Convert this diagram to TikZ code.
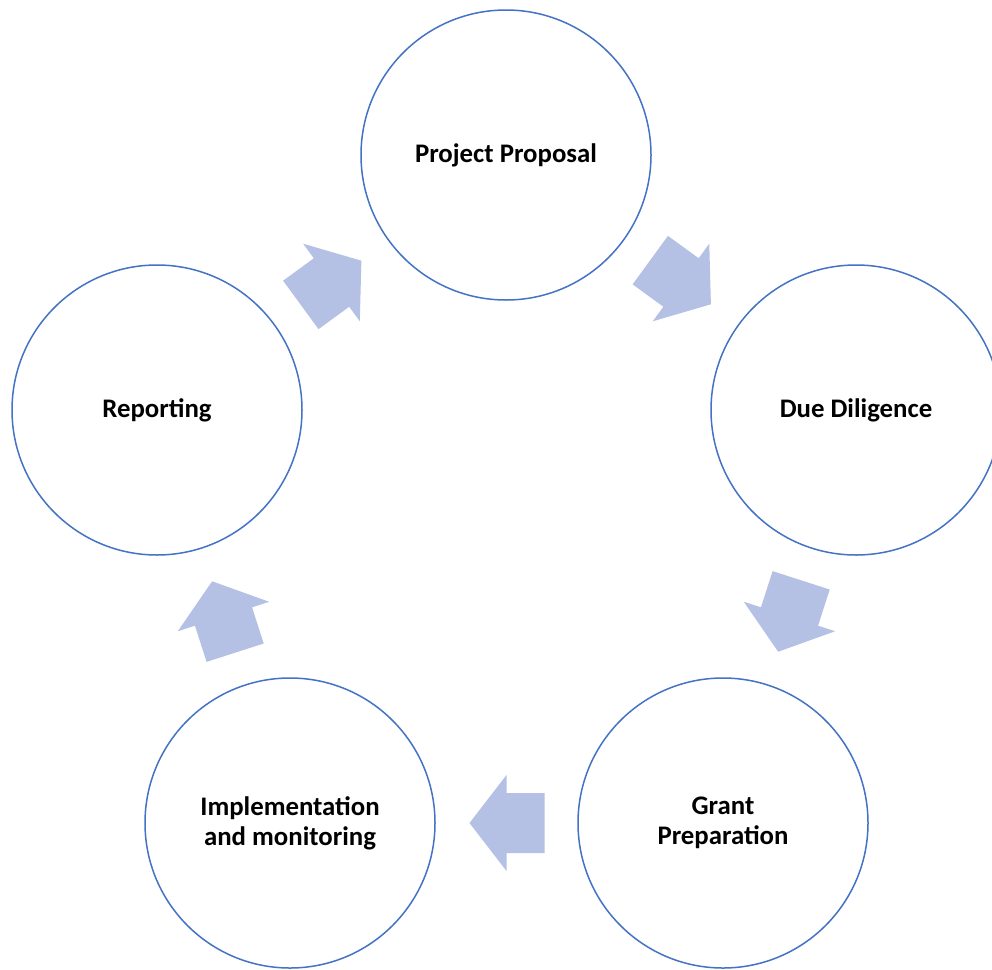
\documentclass[tikz,border=0pt]{standalone}
\usepackage{fontspec}
\setmainfont{Carlito}
\usetikzlibrary{calc}
\definecolor{ringblue}{HTML}{4472C4}
\definecolor{arrowfill}{HTML}{B4C1E4}
% Block arrow centred between two stages, pointing from #1 to #2
\newcommand\flowarrow[2]{%
  \pgfmathanglebetweenpoints{\pgfpointanchor{#1}{center}}{\pgfpointanchor{#2}{center}}%
  \let\flowang\pgfmathresult
  \coordinate (mid-#1-#2) at ($(#1)!0.5!(#2)$);
  \begin{scope}[x=1pt,y=1pt,shift={(mid-#1-#2)},rotate=\flowang]
    \fill[flow] (-38,-30) -- (0,-30) -- (0,-48) -- (37,0)
      -- (0,48) -- (0,30) -- (-38,30) -- cycle;
  \end{scope}}
\begin{document}
\begin{tikzpicture}[x=1pt,y=-1pt,
  stage/.style={circle, draw=ringblue, line width=1.5pt, minimum size=290pt,
    inner sep=0pt, align=center, font=\fontsize{26.8}{30}\selectfont\bfseries},
  flow/.style={fill=arrowfill}]
  \useasboundingbox[fill=white] (0,0) rectangle (992,969);
  \node[stage] (pp)  at (506,155) {Project Proposal};
  \node[stage] (dd)  at (856,410) {Due Diligence};
  \node[stage] (gp)  at (723,823) {Grant\\Preparation};
  \node[stage] (im)  at (290,823) {Implementation\\and monitoring};
  \node[stage] (rep) at (157,410) {Reporting};
  \flowarrow{pp}{dd}
  \flowarrow{dd}{gp}
  \flowarrow{gp}{im}
  \flowarrow{im}{rep}
  \flowarrow{rep}{pp}
\end{tikzpicture}
\end{document}
